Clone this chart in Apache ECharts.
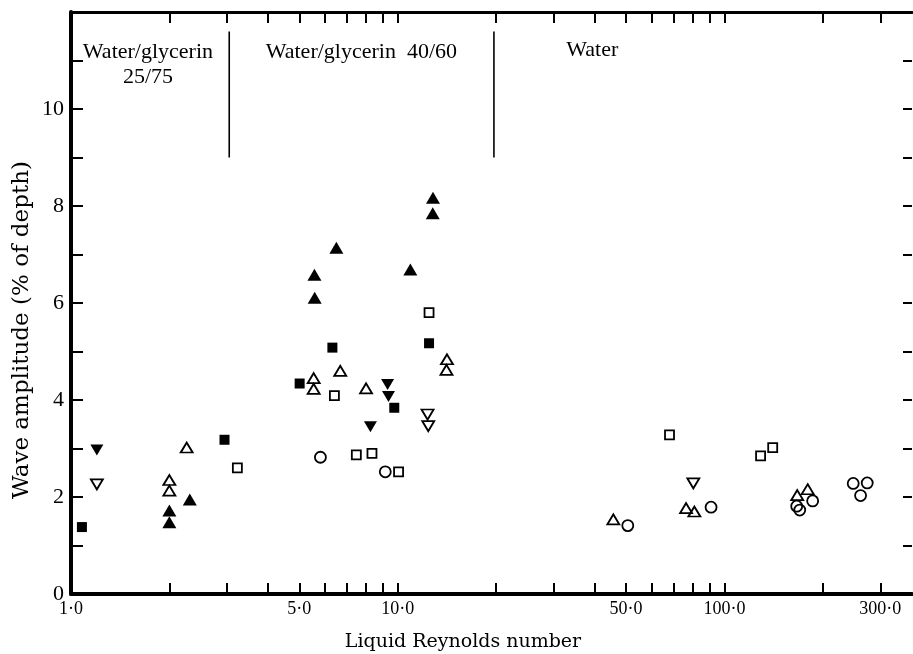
<!DOCTYPE html>
<html><head><meta charset="utf-8">
<script src="https://cdn.jsdelivr.net/npm/echarts@6/dist/echarts.min.js"></script>
<style>html,body{margin:0;padding:0;background:#fff}#c{width:913px;height:654px}</style>
</head><body><div id="c"></div>
<script>
// ---- data ----
const xTickValues = [1,2,3,4,5,6,7,8,9,10,20,30,40,50,60,70,80,90,100,200,300];
const xLabelValues = [1,5,10,50,100,300];
const yLabelValues = [0,2,4,6,8,10];
const regionDividers = [3.05, 19.7];
const dividerBottom = 9;
const dividerTop = 11.6;
const regionNames = ['Water/glycerin\n25/75', 'Water/glycerin  40/60', 'Water'];
const regionLabelX = [1.72, 7.74, 39.4];
const regionLabelY = [10.92, 11.18, 11.22];

const filledSquare = [[1.08,1.38],[2.95,3.18],[5.01,4.34],[6.31,5.08],[9.76,3.84],[12.47,5.17]];
const openSquare = [[3.23,2.60],[6.40,4.09],[7.47,2.87],[8.34,2.90],[10.06,2.52],[12.47,5.80],[67.9,3.28],[129,2.85],[140.5,3.02]];
const filledTriUp = [[2.0,1.72],[2.0,1.48],[2.31,1.95],[5.56,6.58],[5.57,6.11],[6.49,7.14],[10.93,6.69],[12.82,8.17],[12.8,7.85]];
const openTriUp = [[2.0,2.35],[2.0,2.13],[2.26,3.02],[5.53,4.45],[5.53,4.23],[6.67,4.60],[8.0,4.24],[14.15,4.84],[14.1,4.62],[45.7,1.54],[76.3,1.77],[80.9,1.70],[167,2.04],[179.8,2.16]];
const filledTriDown = [[1.20,2.97],[8.25,3.45],[9.31,4.32],[9.37,4.07]];
const openTriDown = [[1.20,2.26],[12.34,3.70],[12.4,3.46],[80.3,2.28]];
const openCircle = [[5.80,2.82],[9.16,2.52],[50.6,1.41],[91.0,1.79],[166.4,1.81],[170,1.73],[186.2,1.92],[247.8,2.28],[273.5,2.29],[261,2.03]];

// ---- chart ----
const chart = echarts.init(document.getElementById('c'), null, {renderer:'canvas'});
const INK = '#000';
const serif = '"Liberation Serif", "Times New Roman", serif';

function xAxisDef(pos){
  return {
    type:'log', logBase:10, min:1, max:375, position:pos,
    axisLine:{show:true, onZero:false, lineStyle:{color:INK, width: pos==='bottom'?4:3}},
    axisTick:{show:true, inside:true, length:11, lineStyle:{color:INK, width:2}, customValues:xTickValues},
    axisLabel:{show: pos==='bottom', customValues:xLabelValues,
      formatter: v => Number(v).toFixed(1).replace('.', '\u00b7'),
      fontFamily:serif, fontSize:18, color:INK, margin:6},
    splitLine:{show:false}, minorTick:{show:false}, minorSplitLine:{show:false}
  };
}
function yAxisDef(pos){
  return {
    type:'value', min:0, max:12, interval:1, position:pos,
    axisLine:{show: pos==='left', onZero:false, lineStyle:{color:INK, width:4}},
    axisTick:{show:true, inside:true, length: pos==='left'?12:9, lineStyle:{color:INK, width:2}},
    axisLabel:{show: pos==='left', formatter: v => yLabelValues.includes(v) ? String(v) : '',
      fontFamily:serif, fontSize:22, color:INK, margin:7},
    splitLine:{show:false}
  };
}

function scatter(data, symbol, size, filled, rotate){
  return {
    type:'scatter', data, symbol, symbolSize:size, symbolRotate:rotate||0,
    xAxisIndex:0, yAxisIndex:0, z:5,
    itemStyle: filled ? {color:'#000', opacity:1} : {color:'transparent', borderColor:'#000', borderWidth:1.8, opacity:1},
    emphasis:{disabled:true}
  };
}

const series = [
  scatter(filledSquare, 'rect', 10, true),
  scatter(openSquare, 'rect', 9, false),
  scatter(filledTriUp, 'triangle', [14,12], true),
  scatter(openTriUp, 'triangle', [12,10], false),
  scatter(filledTriDown, 'triangle', [13,11], true, 180),
  scatter(openTriDown, 'triangle', [12,10], false, 180),
  scatter(openCircle, 'circle', 11, false)
];

regionDividers.forEach(x => {
  series.push({
    type:'line', data:[[x, dividerBottom],[x, dividerTop]], symbol:'none',
    lineStyle:{color:INK, width:1.6}, xAxisIndex:0, yAxisIndex:0, silent:true
  });
});

series.push({
  type:'scatter', symbolSize:1, itemStyle:{color:'transparent', opacity:1}, silent:true,
  data: regionNames.map((n,i) => ({value:[regionLabelX[i], regionLabelY[i]], name:n})),
  label:{show:true, position:'inside', formatter: p => p.name, fontFamily:serif, fontSize:22,
    color:INK, opacity:1, lineHeight:25, align:'center', verticalAlign:'middle'}
});

chart.setOption({
  animation:false,
  backgroundColor:'#fff',
  grid:{left:71, top:12, width:841, bottom:60, containLabel:false},
  xAxis:[xAxisDef('bottom'), xAxisDef('top')],
  yAxis:[yAxisDef('left'), yAxisDef('right')],
  series,
  graphic:[
    {type:'text', x:463, y:642, style:{text:'Liquid Reynolds number', font:'19px "DejaVu Serif"', fill:INK, align:'center', verticalAlign:'middle'}},
    {type:'text', x:22, y:330, rotation:Math.PI/2, style:{text:'Wave amplitude (% of depth)', font:'23px "DejaVu Serif"', fill:INK, align:'center', verticalAlign:'middle'}}
  ]
});
</script></body></html>
